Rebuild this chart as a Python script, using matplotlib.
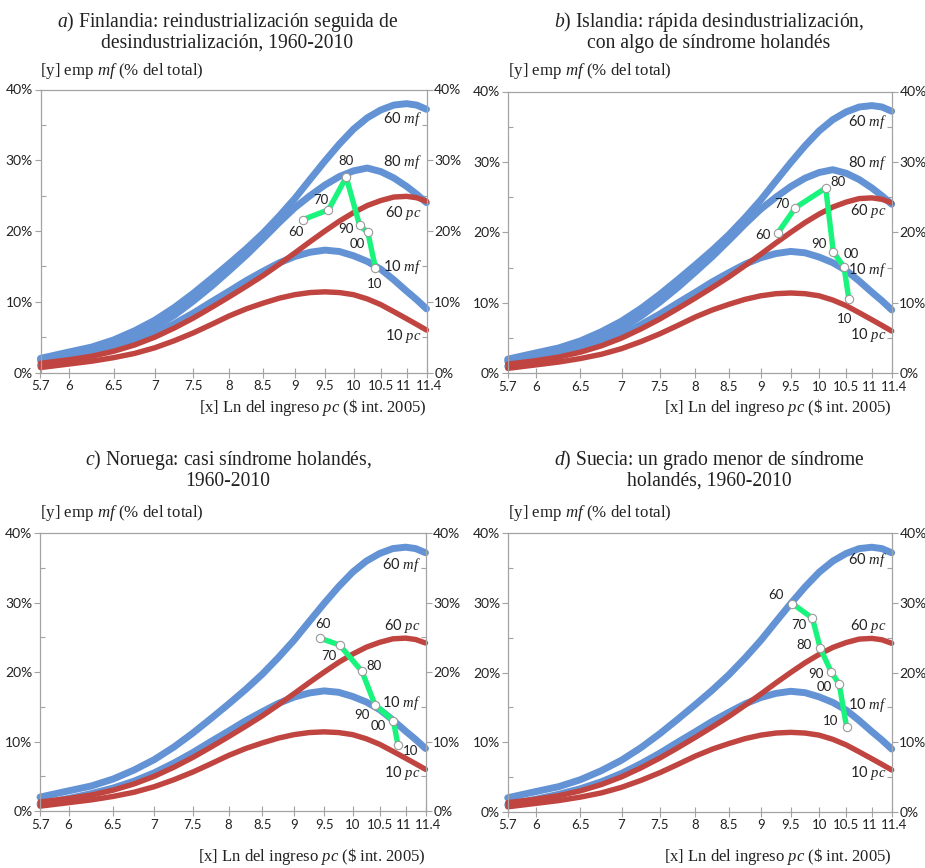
import matplotlib.pyplot as plt
from matplotlib.ticker import NullLocator
from matplotlib.transforms import ScaledTranslation

plt.rcParams['font.family'] = ['Lato', 'DejaVu Sans']
plt.rcParams['mathtext.fontset'] = 'custom'
plt.rcParams['mathtext.rm'] = 'Liberation Serif'
plt.rcParams['mathtext.it'] = 'Liberation Serif:italic'

#%% Datos

# Ln del ingreso pc donde se leen las curvas de referencia
ln_ingreso = [5.7, 6.0, 6.25, 6.5, 6.75, 7.0, 7.25, 7.5, 7.75, 8.0, 8.25,
              8.5, 8.75, 9.0, 9.25, 9.5, 9.75, 10.0, 10.25, 10.5, 10.75,
              11.0, 11.2, 11.4]

# empleo manufacturero (% del total), curvas estimadas por año
mf_1960 = [2.0, 2.9, 3.6, 4.6, 5.9, 7.4, 9.2, 11.2, 13.3, 15.4, 17.5,
           19.7, 22.1, 24.6, 27.3, 29.9, 32.3, 34.4, 36.0, 37.1, 37.8,
           38.0, 37.8, 37.2]
mf_1980 = [1.7, 2.4, 3.0, 3.8, 4.9, 6.4, 8.1, 10.1, 12.2, 14.4, 16.6,
           18.9, 21.2, 23.3, 25.0, 26.5, 27.7, 28.5, 28.9, 28.4, 27.5,
           26.3, 25.2, 24.0]
mf_2010 = [1.0, 1.8, 2.5, 3.3, 4.3, 5.5, 6.9, 8.4, 10.0, 11.5, 13.0,
           14.3, 15.5, 16.4, 17.0, 17.3, 17.1, 16.5, 15.7, 14.6, 13.1,
           11.5, 10.3, 9.0]
pc_1960 = [1.3, 1.8, 2.3, 3.0, 3.9, 5.0, 6.3, 7.7, 9.2, 10.7, 12.2,
           13.7, 15.3, 16.9, 18.5, 20.0, 21.4, 22.6, 23.6, 24.3, 24.8,
           24.9, 24.7, 24.2]
pc_2010 = [0.7, 1.2, 1.6, 2.1, 2.7, 3.5, 4.5, 5.6, 6.8, 8.0, 9.0,
           9.8, 10.5, 11.0, 11.3, 11.4, 11.3, 11.0, 10.4, 9.6, 8.6,
           7.6, 6.8, 6.0]

x_ticks = [5.7, 6, 6.5, 7, 7.5, 8, 8.5, 9, 9.5, 10, 10.5, 11, 11.4]
x_tick_labels = ['5.7', '6', '6.5', '7', '7.5', '8', '8.5', '9', '9.5',
                 '10', '10.5', '11', '11.4']
y_ticks = [0, 10, 20, 30, 40]
y_tick_labels = ['0%', '10%', '20%', '30%', '40%']

decadas = ['60', '70', '80', '90', '00', '10']

# trayectoria de cada país, 1960-2010
fin_x = [9.13, 9.56, 9.87, 10.11, 10.26, 10.40]
fin_y = [21.6, 23.0, 27.6, 20.8, 19.8, 14.8]
isl_x = [9.28, 9.58, 10.12, 10.26, 10.46, 10.55]
isl_y = [19.9, 23.5, 26.3, 17.2, 15.1, 10.6]
nor_x = [9.43, 9.77, 10.17, 10.41, 10.76, 10.85]
nor_y = [24.9, 23.9, 20.1, 15.3, 13.0, 9.5]
sue_x = [9.53, 9.88, 10.02, 10.22, 10.37, 10.51]
sue_y = [29.9, 27.8, 23.5, 20.1, 18.3, 12.1]

#%% Estilo

AZUL = '#6393d4'
ROJO = '#c0443f'
VERDE = '#19f57c'
GRIS = '#a3a3a3'
TEXTO = '#222222'
SERIF = 'Liberation Serif'

W, H = 925, 868

paneles = [
    dict(titulo=[r'$\it{a)}$ Finlandia: reindustrialización seguida de',
                 'desindustrialización, 1960-2010'],
         caja=(40.5, 426.5, 89.5, 372.5), tit_x=227.5, tit_y=(22, 43.5),
         ylab_y=71, xlab_y=407, x=fin_x, y=fin_y, con80=True,
         etiquetas={'60 mf': 35.9, '80 mf': 29.7, '60 pc': 22.5,
                    '10 mf': 14.9, '10 pc': 5.2},
         offs=[(-7, -12), (-8, 10), (0, 16), (-14, -4), (-11, -12), (-1, -16)]),
    dict(titulo=[r'$\it{b)}$ Islandia: rápida desindustrialización,',
                 'con algo de síndrome holandés'],
         caja=(507.7, 891.7, 91.5, 373.3), tit_x=709, tit_y=(22, 43.5),
         ylab_y=71, xlab_y=407, x=isl_x, y=isl_y, con80=True,
         etiquetas={'60 mf': 35.7, '80 mf': 29.8, '60 pc': 23.0,
                    '10 mf': 14.7, '10 pc': 5.4},
         offs=[(-15, -2), (-13, 4), (12, 6), (-14, 8), (7, 13), (-4, -20)]),
    dict(titulo=[r'$\it{c)}$ Noruega: casi síndrome holandés,',
                 '1960-2010'],
         caja=(40.0, 425.5, 533.3, 811.0), tit_x=228, tit_y=(460, 481),
         ylab_y=512.7, xlab_y=856.7, x=nor_x, y=nor_y, con80=False,
         etiquetas={'60 mf': 35.4, '60 pc': 26.7, '10 mf': 15.6,
                    '10 pc': 5.5},
         offs=[(3, 14), (-11, -11), (12, 5), (-13, -10), (-15, -5), (13, -6)]),
    dict(titulo=[r'$\it{d)}$ Suecia: un grado menor de síndrome',
                 'holandés, 1960-2010'],
         caja=(507.7, 891.7, 533.3, 811.7), tit_x=709, tit_y=(459.5, 481),
         ylab_y=512.7, xlab_y=856.7, x=sue_x, y=sue_y, con80=False,
         etiquetas={'60 mf': 36.1, '60 pc': 26.7, '10 mf': 15.3,
                    '10 pc': 5.5},
         offs=[(-17, 9), (-14, -7), (-16, 3), (-15, -2), (-15, -3), (-16, 6)]),
]

# pequeño desplazamiento (px) de las etiquetas 11 y 11.4 para que no se pisen
nudge_x = {'11': -2.5, '11.4': 2.5}

fig = plt.figure(figsize=(W / 100, H / 100), dpi=100)

for p in paneles:
    x0, x1, ytop, ybot = p['caja']
    ax = fig.add_axes([x0 / W, 1 - ybot / H, (x1 - x0) / W, (ybot - ytop) / H])

    # curvas de referencia
    kw_az = dict(color=AZUL, lw=5.0, solid_capstyle='round',
                 solid_joinstyle='round', clip_on=False)
    kw_ro = dict(color=ROJO, lw=3.9, solid_capstyle='round',
                 solid_joinstyle='round', clip_on=False)
    ax.plot(ln_ingreso, mf_1960, **kw_az)
    if p['con80']:
        ax.plot(ln_ingreso, mf_1980, **kw_az)
    ax.plot(ln_ingreso, mf_2010, **kw_az)
    ax.plot(ln_ingreso, pc_1960, **kw_ro)
    ax.plot(ln_ingreso, pc_2010, **kw_ro)

    # trayectoria del país
    ax.plot(p['x'], p['y'], color=VERDE, lw=3.9, marker='o', ms=6,
            mfc='white', mec='#9a9a9a', mew=0.8, zorder=5)
    for d, xv, yv, (dx, dy) in zip(decadas, p['x'], p['y'], p['offs']):
        ax.annotate(d, (xv, yv), xytext=(dx, dy), textcoords='offset pixels',
                    ha='center', va='center', fontsize=9.5, color=TEXTO, zorder=6)

    # etiquetas de las curvas
    for nombre, yv in p['etiquetas'].items():
        num, tipo = nombre.split()
        ax.text(11.3, yv, num + r' $\it{' + tipo + '}$', ha='right', va='center',
                fontsize=10.5, color=TEXTO)

    ax.set_xscale('log')
    ax.set_xlim(5.7, 11.4)
    ax.set_ylim(0, 40)
    ax.set_xticks(x_ticks, labels=x_tick_labels)
    ax.xaxis.set_minor_locator(NullLocator())
    ax.set_yticks(y_ticks, labels=y_tick_labels)
    ax.set_yticks([5, 15, 25, 35], minor=True)

    ax.tick_params(axis='y', which='major', direction='out', length=4, width=0.8,
                   color=GRIS, left=True, right=True, labelleft=True,
                   labelright=True, labelsize=10, labelcolor=TEXTO, pad=1.5)
    ax.tick_params(axis='y', which='minor', direction='in', length=3.5, width=0.8,
                   color=GRIS, left=True, right=True)
    ax.tick_params(axis='x', which='major', direction='inout', length=7, width=0.8,
                   color=GRIS, labelsize=9.5, labelcolor=TEXTO, pad=2)
    for lab in ax.get_xticklabels():
        dx = nudge_x.get(lab.get_text(), 0)
        if dx:
            lab.set_transform(lab.get_transform() +
                              ScaledTranslation(dx / 100, 0, fig.dpi_scale_trans))
    for s in ax.spines.values():
        s.set_color(GRIS)
        s.set_linewidth(0.9)

    # títulos y rótulos de ejes
    for linea, ty in zip(p['titulo'], p['tit_y']):
        fig.text(p['tit_x'] / W, 1 - ty / H, linea, ha='center', va='center',
                 family=SERIF, fontsize=14.1, color=TEXTO)
    fig.text(x0 / W, 1 - p['ylab_y'] / H, r'[y] emp $\it{mf}$ (% del total)',
             ha='left', va='center', family=SERIF, fontsize=12.2, color=TEXTO)
    fig.text(x1 / W, 1 - p['xlab_y'] / H,
             r'[x] Ln del ingreso $\it{pc}$ (\$ int. 2005)',
             ha='right', va='center', family=SERIF, fontsize=12, color=TEXTO)

fig.savefig('out.png', dpi=100)
